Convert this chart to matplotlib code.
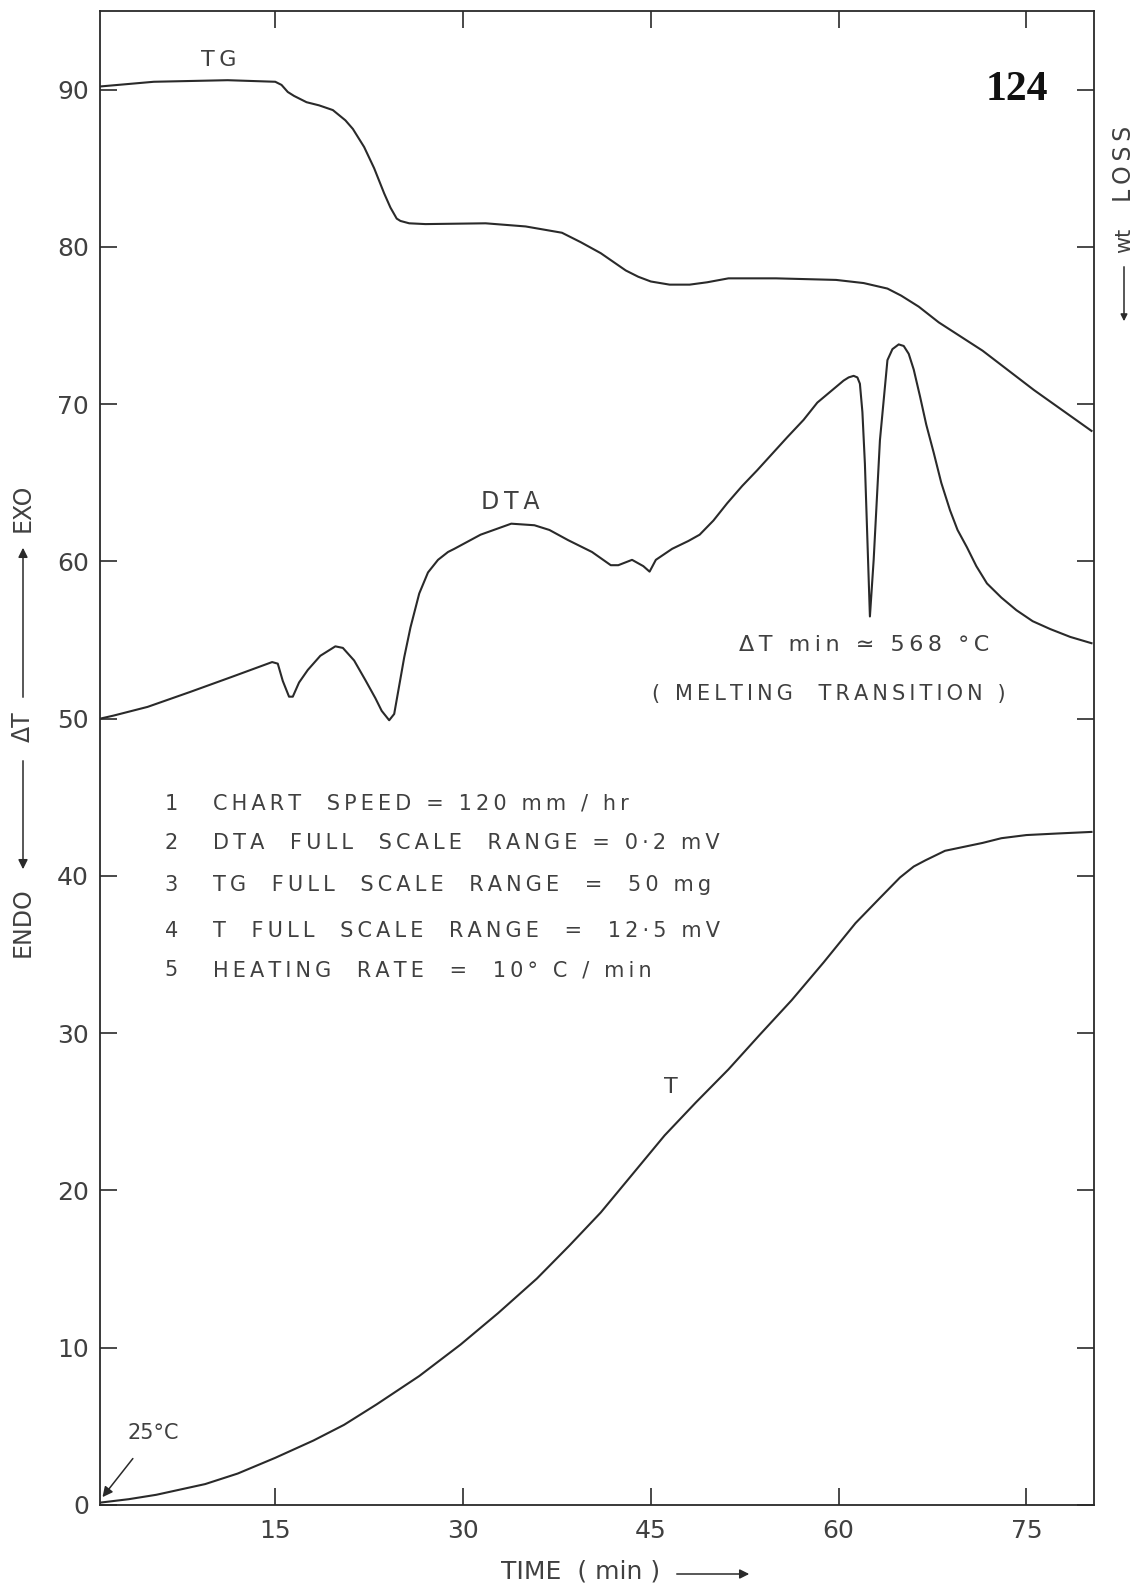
import numpy as np
import matplotlib
matplotlib.use("Agg")
import matplotlib.pyplot as plt
from matplotlib.patches import FancyArrowPatch

# TG curve (weight)
tg_time = [1.0, 5.3, 11.2, 15.0, 15.5, 16.0, 16.5, 17.5, 18.5, 19.6, 20.6, 21.2,
           22.1, 22.9, 23.7, 24.2, 24.7, 25.0, 25.7, 27.0, 31.8, 35.0, 37.9,
           39.4, 41.0, 43.0, 44.0, 45.0, 46.5, 48.1, 49.5, 51.2, 55.0, 59.8,
           62.0, 63.9, 65.0, 66.4, 68.0, 71.5, 75.6, 80.2]
tg_val = [90.2, 90.5, 90.6, 90.5, 90.3, 89.85, 89.6, 89.2, 89.0, 88.7, 88.05,
          87.5, 86.35, 85.0, 83.4, 82.5, 81.8, 81.65, 81.5, 81.45, 81.5, 81.3,
          80.9, 80.3, 79.6, 78.5, 78.1, 77.8, 77.6, 77.6, 77.75, 78.0, 78.0,
          77.9, 77.7, 77.35, 76.9, 76.2, 75.2, 73.4, 70.9, 68.3]

# DTA curve
dta_time = [1.0, 2.1, 4.8, 8.2, 11.5, 14.75, 15.2, 15.6, 16.1, 16.4, 16.9, 17.6,
            18.6, 19.8, 20.4, 21.3, 22.2, 23.0, 23.5, 24.1, 24.5, 25.3, 25.8,
            26.5, 27.2, 28.0, 28.8, 29.3, 31.4, 33.85, 35.7, 36.9, 38.4, 40.3,
            41.8, 42.4, 43.5, 44.4, 44.9, 45.4, 46.7, 48.0, 48.9, 50.0, 51.1,
            52.3, 53.5, 55.9, 57.2, 58.3, 59.5, 60.4, 60.8, 61.2, 61.5, 61.7,
            61.9, 62.1, 62.5, 62.8, 63.3, 63.9, 64.3, 64.8, 65.2, 65.6, 66.0,
            66.5, 67.0, 67.6, 68.2, 68.9, 69.5, 70.25, 71.0, 71.85, 73.0, 74.2,
            75.5, 76.9, 78.5, 80.2]
dta_val = [50.0, 50.2, 50.75, 51.7, 52.65, 53.6, 53.5, 52.4, 51.4, 51.4, 52.3,
           53.1, 54.0, 54.6, 54.5, 53.7, 52.45, 51.3, 50.5, 49.9, 50.3, 53.9,
           55.8, 57.96, 59.3, 60.1, 60.6, 60.8, 61.7, 62.4, 62.3, 62.0, 61.35,
           60.6, 59.76, 59.76, 60.1, 59.7, 59.35, 60.1, 60.8, 61.3, 61.7, 62.6,
           63.7, 64.8, 65.8, 67.9, 69.0, 70.1, 70.9, 71.5, 71.7, 71.8, 71.7,
           71.3, 69.5, 66.2, 56.5, 60.1, 67.7, 72.8, 73.5, 73.8, 73.7, 73.2,
           72.2, 70.5, 68.7, 66.9, 65.0, 63.25, 62.0, 60.9, 59.7, 58.6, 57.7,
           56.9, 56.2, 55.7, 55.2, 54.8]

# T curve (temperature)
t_time = [1.0, 3.3, 5.5, 9.4, 12.0, 15.0, 18.05, 20.5, 23.1, 26.5, 29.8, 32.8,
          35.9, 38.5, 41.0, 43.5, 46.1, 48.6, 51.2, 53.7, 56.25, 58.8, 61.35,
          63.3, 64.9, 66.0, 66.95, 68.5, 71.5, 73.0, 75.0, 77.5, 80.2]
t_val = [0.15, 0.37, 0.65, 1.33, 2.0, 3.0, 4.1, 5.1, 6.4, 8.2, 10.2, 12.2, 14.4,
         16.5, 18.6, 21.0, 23.5, 25.6, 27.7, 29.9, 32.1, 34.5, 37.0, 38.6, 39.9,
         40.6, 41.0, 41.6, 42.1, 42.4, 42.6, 42.7, 42.8]

x_ticks = [15, 30, 45, 60, 75]
y_ticks = [0, 10, 20, 30, 40, 50, 60, 70, 80, 90]

notes = [
    ("1", "CHART  SPEED = 120 mm / hr"),
    ("2", "DTA  FULL  SCALE  RANGE = 0·2 mV"),
    ("3", "TG  FULL  SCALE  RANGE  =  50 mg"),
    ("4", "T  FULL  SCALE  RANGE  =  12·5 mV"),
    ("5", "HEATING  RATE  =  10° C / min"),
]
note_y = [44.6, 42.1, 39.4, 36.5, 34.0]

ink = "#2a2a2a"
txt = "#404040"
plt.rcParams["font.family"] = ["DejaVu Sans"]

W, H = 1138, 1585
fig = plt.figure(figsize=(W / 100, H / 100), dpi=100)


def px(x, y):
    # figure pixel -> figure fraction
    return x / W, 1 - y / H


def spaced(s):
    # lettering-guide look: open letter spacing
    return "\u2009".join(s)


ax = fig.add_axes([100 / W, 1 - 1505 / H, (1094 - 100) / W, (1505 - 11) / H])
ax.set_xlim(1.0, 80.4)
ax.set_ylim(0, 95)

ax.plot(tg_time, tg_val, color=ink, lw=1.5)
ax.plot(dta_time, dta_val, color=ink, lw=1.5)
ax.plot(t_time, t_val, color=ink, lw=1.5)

for s in ax.spines.values():
    s.set_color(ink)
    s.set_linewidth(1.3)

ax.set_xticks(x_ticks)
ax.set_xticklabels([str(v) for v in x_ticks])
ax.set_yticks(y_ticks)
ax.set_yticklabels([str(v) for v in y_ticks])
ax.tick_params(direction="in", length=12, width=1.2, color=ink,
               top=True, right=True, labelsize=18, labelcolor=txt)
ax.tick_params(axis="x", pad=10)
ax.tick_params(axis="y", pad=8)

# curve labels
ax.text(10.45, 91.9, spaced("TG"), fontsize=16, color=txt, ha="center", va="center")
ax.text(33.8, 63.8, spaced("DTA"), fontsize=17, color=txt, ha="center", va="center")
ax.text(46.6, 26.6, "T", fontsize=16, color=txt, ha="center", va="center")
ax.text(74.2, 90.0, "124", fontsize=30, fontweight="bold", color="#111",
        family="Liberation Serif", ha="center", va="center")

ax.text(62.05, 54.7, spaced("ΔT min ≃ 568 °C"), fontsize=16, color=txt,
        ha="center", va="center")
ax.text(59.2, 51.55, spaced("( MELTING  TRANSITION )"), fontsize=15, color=txt,
        ha="center", va="center")

for (num, line), y in zip(notes, note_y):
    ax.text(6.7, y, num, fontsize=15, color=txt, ha="center", va="center")
    ax.text(10.05, y, spaced(line), fontsize=15, color=txt, ha="left", va="center")

ax.annotate("25°C", xy=(1.2, 0.5), xytext=(5.25, 4.6), fontsize=15, color=txt,
            ha="center", va="center",
            arrowprops=dict(arrowstyle="-|>", color=ink, lw=1.1,
                            shrinkA=12, shrinkB=0))

# left axis label: ENDO <-- dT --> EXO
fig.text(*px(23, 508), "EXO", rotation=90, fontsize=17, color=txt,
         ha="center", va="center")
fig.text(*px(23, 727), "ΔT", rotation=90, fontsize=17, color=txt,
         ha="center", va="center")
fig.text(*px(23, 922), "ENDO", rotation=90, fontsize=17, color=txt,
         ha="center", va="center")
fig.add_artist(FancyArrowPatch(px(23, 700), px(23, 545), transform=fig.transFigure,
                               arrowstyle="-|>", mutation_scale=14, color=ink, lw=1.1))
fig.add_artist(FancyArrowPatch(px(23, 758), px(23, 872), transform=fig.transFigure,
                               arrowstyle="-|>", mutation_scale=14, color=ink, lw=1.1))

# right axis label
fig.text(*px(1124, 164), spaced("LOSS"), rotation=90, fontsize=17, color=txt,
         ha="center", va="center")
fig.text(*px(1124, 240), "wt", rotation=90, fontsize=15, color=txt,
         ha="center", va="center")
fig.add_artist(FancyArrowPatch(px(1124, 264), px(1124, 324), transform=fig.transFigure,
                               arrowstyle="-|>", mutation_scale=10, color=ink, lw=1.1))

# x axis label
fig.text(*px(581, 1571), "TIME  ( min )", fontsize=18, color=txt,
         ha="center", va="center")
fig.add_artist(FancyArrowPatch(px(674, 1574), px(752, 1574), transform=fig.transFigure,
                               arrowstyle="-|>", mutation_scale=14, color=ink, lw=1.1))

fig.savefig("out.png", dpi=100)
